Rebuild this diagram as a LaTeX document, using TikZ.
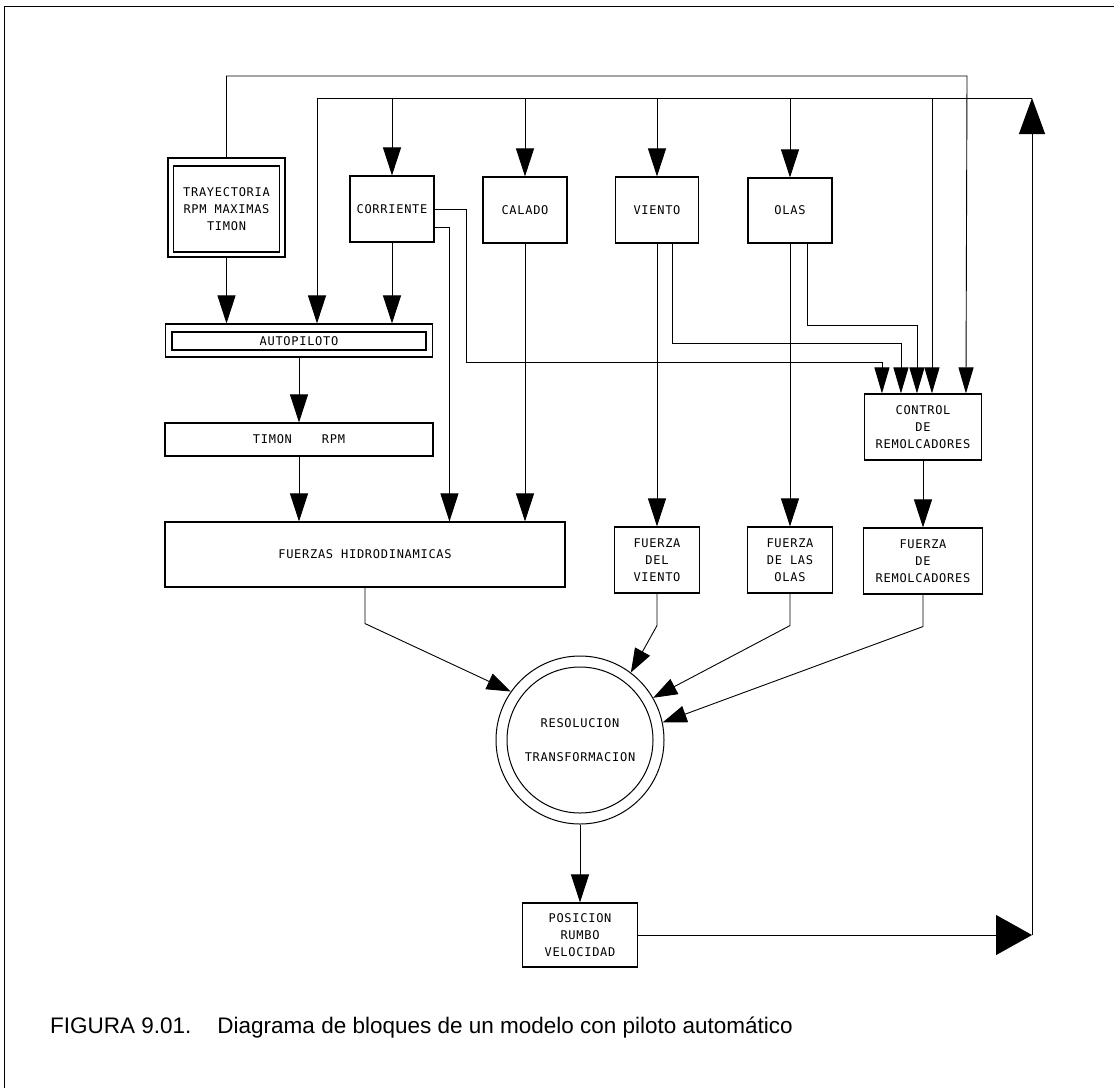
\documentclass[tikz,border=0pt]{standalone}
\usepackage{fontspec}
\setmainfont{Liberation Sans}
\newfontfamily\dia[LetterSpace=6]{DejaVu Sans Mono}
\newcommand\diafont{\dia\fontsize{12}{17}\selectfont}
\usetikzlibrary{arrows.meta,calc}
\begin{document}
\begin{tikzpicture}[x=1pt,y=-1pt,
  box/.style={draw, line width=1.1pt, rectangle, inner sep=0pt, font=\diafont, align=center},
  ln/.style={line width=0.9pt},
  arr/.style={line width=0.9pt, -{Triangle[length=28pt,width=18pt]}},
  arrs/.style={line width=0.9pt, -{Triangle[length=26pt,width=15pt]}},
  arrc/.style={line width=0.9pt, -{Triangle[length=24pt,width=17pt]}},
  bigup/.style={line width=0.9pt, -{Triangle[length=36pt,width=26pt]}},
  bigright/.style={line width=0.9pt, -{Triangle[length=36pt,width=40pt]}}]
\useasboundingbox (0,0) rectangle (1114,1088);
% frame
\draw[line width=1pt] (4,1088) -- (4,6) -- (1114,6);
% boxes
\node[box, minimum width=117pt, minimum height=99pt] (tray) at (226.5,207.5) {};
\node[box, minimum width=106pt, minimum height=86pt] (trayin) at (226.5,209) {TRAYECTORIA\\RPM MAXIMAS\\TIMON};
\node[box, minimum width=84pt, minimum height=66pt] (corr) at (392,209) {CORRIENTE};
\node[box, minimum width=84pt, minimum height=66pt] (calado) at (525,210) {CALADO};
\node[box, minimum width=83pt, minimum height=66pt] (viento) at (657,210) {VIENTO};
\node[box, minimum width=84pt, minimum height=65pt] (olas) at (790,210.5) {OLAS};
\node[box, minimum width=267pt, minimum height=33pt] (auto) at (299,340.5) {};
\node[box, minimum width=254pt, minimum height=18pt] (autoin) at (299,341) {AUTOPILOTO};
\node[box, minimum width=268pt, minimum height=33pt] (timon) at (299,439.5) {TIMON\hspace{30pt}RPM};
\node[box, minimum width=400pt, minimum height=65pt] (fuerzas) at (365,554.5) {FUERZAS HIDRODINAMICAS};
\node[box, minimum width=85pt, minimum height=66pt] (fviento) at (657,560) {FUERZA\\DEL\\VIENTO};
\node[box, minimum width=85pt, minimum height=66pt] (folas) at (790,560) {FUERZA\\DE LAS\\OLAS};
\node[box, minimum width=117pt, minimum height=66pt] (control) at (923,427) {CONTROL\\DE\\REMOLCADORES};
\node[box, minimum width=119pt, minimum height=66pt] (frem) at (923,561) {FUERZA\\DE\\REMOLCADORES};
\node[circle, draw, line width=1pt, minimum size=168pt, inner sep=0pt] (res) at (580,740) {};
\node[circle, draw, line width=1pt, minimum size=146pt, inner sep=0pt, font=\diafont, align=center] (resin) at (580,740) {RESOLUCION\\[17pt]TRANSFORMACION};
\node[box, minimum width=115pt, minimum height=64pt] (pos) at (580,935) {POSICION\\RUMBO\\VELOCIDAD};
% coordinates
\coordinate (t2L) at (317,98);
\coordinate (t2R) at (1032,98);
\coordinate (t1R) at (967,76);
\coordinate (c1) at ($(control.north west)+(18,0)$);
\coordinate (c2) at ($(control.north west)+(37,0)$);
\coordinate (c3) at ($(control.north west)+(53,0)$);
\coordinate (c4) at ($(control.north west)+(68,0)$);
\coordinate (c5) at ($(control.north west)+(102,0)$);
\coordinate (f2) at ($(fuerzas.north west)+(285,0)$);
\coordinate (fb) at (1032,935);
% top distribution lines
\draw[ln] (t2L) -- (t2R);
\draw[arrs] (tray.north) |- (t1R) -- (c5);
\draw[arr] (t2L) -- (t2L |- auto.north);
\draw[arr] (corr.north |- t2L) -- (corr.north);
\draw[arr] (calado.north |- t2L) -- (calado.north);
\draw[arr] (viento.north |- t2L) -- (viento.north);
\draw[arr] (olas.north |- t2L) -- (olas.north);
\draw[arrs] (c4 |- t2L) -- (c4);
% into autopilot
\draw[arr] (tray.south) -- (tray.south |- auto.north);
\draw[arr] (corr.south) -- (corr.south |- auto.north);
\draw[arr] (auto.south) -- (timon.north);
\draw[arr] (timon.south) -- (timon.south |- fuerzas.north);
\draw[arr] (calado.south) -- (calado.south |- fuerzas.north);
\draw[arr] ($(corr.east)+(0,18)$) -| (f2);
% into control
\draw[arrs] (corr.east) -- ++(32,0) -- ++(0,153) -| (c1);
\draw[arrs] ($(viento.south)+(15,0)$) -- ++(0,100) -| (c2);
\draw[arrs] ($(olas.south)+(17,0)$) -- ++(0,82) -| (c3);
% forces
\draw[arr] (viento.south) -- (fviento.north);
\draw[arr] (olas.south) -- (folas.north);
\draw[arr] (control.south) -- (frem.north);
% into resolution
\draw[arrc] (fuerzas.south) -- ++(0,36) -- (res.145);
\draw[arrc] (fviento.south) -- ++(0,32) -- (res.53);
\draw[arrc] (folas.south) -- ++(0,32) -- (res.30);
\draw[arrc] (frem.south) -- ++(0,32) -- (res.12);
\draw[arr] (res.south) -- (pos.north);
% feedback
\draw[bigright] (pos.east) -- (fb);
\draw[bigup] (fb) -- (t2R);
% caption
\node[anchor=base west, inner sep=0pt, font=\fontsize{22.5}{27}\selectfont] (cap) at (50,1033) {FIGURA 9.01.\hspace{26pt}Diagrama de bloques de un modelo con piloto automático};
\end{tikzpicture}
\end{document}
